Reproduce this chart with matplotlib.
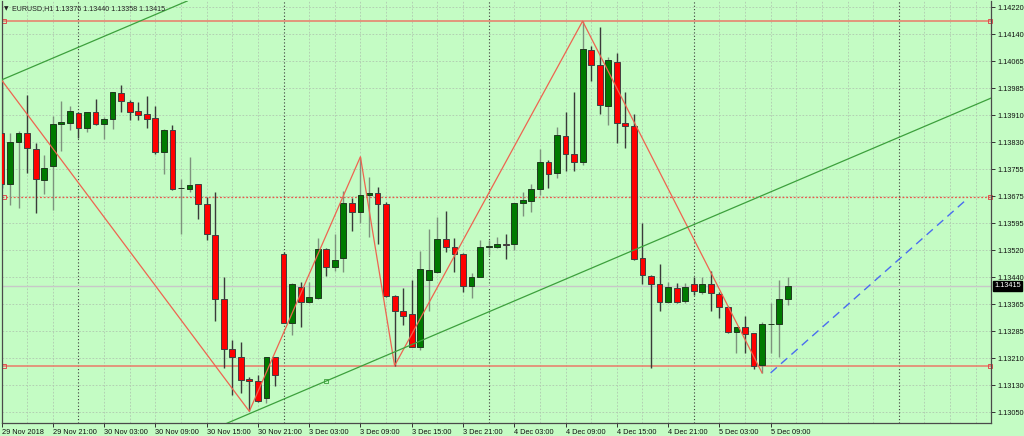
import matplotlib
matplotlib.use('Agg')
import matplotlib.pyplot as plt
import numpy as np

# ---------------- data (EURUSD H1) ----------------
opens = [1.13856, 1.13708, 1.13830, 1.13856, 1.13811, 1.13720, 1.13762, 1.13882, 1.13885, 1.13915,
         1.13871, 1.13917, 1.13882, 1.13897, 1.13973, 1.13947, 1.13919, 1.13911, 1.13899, 1.13802,
         1.13865, 1.13697, 1.13695, 1.13708, 1.13652, 1.13562, 1.13376, 1.13231, 1.13208, 1.13145,
         1.13140, 1.13090, 1.13209, 1.13507, 1.13308, 1.13412, 1.13369, 1.13379, 1.13520, 1.13470,
         1.13494, 1.13655, 1.13627, 1.13677, 1.13684, 1.13650, 1.13385, 1.13342, 1.13332, 1.13239,
         1.13432, 1.13454, 1.13550, 1.13527, 1.13507, 1.13415, 1.13441, 1.13528, 1.13527, 1.13537,
         1.13537, 1.13653, 1.13661, 1.13694, 1.13772, 1.13740, 1.13847, 1.13796, 1.13773, 1.14097,
         1.14053, 1.13935, 1.14063, 1.13885, 1.13876, 1.13494, 1.13443, 1.13419, 1.13367, 1.13409,
         1.13372, 1.13420, 1.13398, 1.13420, 1.13391, 1.13354, 1.13280, 1.13295, 1.13277, 1.13186,
         1.13303, 1.13303, 1.13376]
highs = [1.14010, 1.13856, 1.13862, 1.13966, 1.13827, 1.13793, 1.13906, 1.13950, 1.13935, 1.13918,
         1.13918, 1.13955, 1.13904, 1.13976, 1.13995, 1.13952, 1.13945, 1.13964, 1.13935, 1.13867,
         1.13880, 1.13723, 1.13786, 1.13710, 1.13672, 1.13687, 1.13439, 1.13258, 1.13253, 1.13151,
         1.13157, 1.13210, 1.13210, 1.13513, 1.13422, 1.13427, 1.13427, 1.13554, 1.13523, 1.13564,
         1.13690, 1.13668, 1.13788, 1.13730, 1.13701, 1.13656, 1.13388, 1.13408, 1.13432, 1.13515,
         1.13578, 1.13615, 1.13632, 1.13552, 1.13509, 1.13451, 1.13547, 1.13547, 1.13557, 1.13566,
         1.13655, 1.13687, 1.13708, 1.13810, 1.13778, 1.13873, 1.13916, 1.13974, 1.14180, 1.14108,
         1.14164, 1.14075, 1.14087, 1.13976, 1.13911, 1.13595, 1.13446, 1.13478, 1.13427, 1.13424,
         1.13424, 1.13439, 1.13439, 1.13458, 1.13398, 1.13356, 1.13297, 1.13327, 1.13279, 1.13311,
         1.13366, 1.13433, 1.13440]
lows = [1.13697, 1.13648, 1.13640, 1.13742, 1.13624, 1.13680, 1.13634, 1.13805, 1.13865, 1.13841,
        1.13860, 1.13880, 1.13839, 1.13867, 1.13918, 1.13894, 1.13894, 1.13870, 1.13796, 1.13737,
        1.13692, 1.13566, 1.13687, 1.13607, 1.13547, 1.13314, 1.13176, 1.13099, 1.13104, 1.13052,
        1.13080, 1.13075, 1.13125, 1.13306, 1.13273, 1.13297, 1.13364, 1.13376, 1.13444, 1.13458,
        1.13454, 1.13573, 1.13595, 1.13557, 1.13535, 1.13383, 1.13184, 1.13301, 1.13237, 1.13229,
        1.13341, 1.13453, 1.13512, 1.13454, 1.13398, 1.13381, 1.13439, 1.13504, 1.13523, 1.13491,
        1.13518, 1.13617, 1.13629, 1.13676, 1.13697, 1.13727, 1.13747, 1.13747, 1.13764, 1.14008,
        1.13911, 1.13880, 1.13828, 1.13812, 1.13489, 1.13419, 1.13178, 1.13342, 1.13365, 1.13365,
        1.13364, 1.13388, 1.13391, 1.13343, 1.13321, 1.13278, 1.13221, 1.13221, 1.13173, 1.13163,
        1.13221, 1.13208, 1.13358]
closes = [1.13708, 1.13830, 1.13856, 1.13812, 1.13723, 1.13754, 1.13883, 1.13887, 1.13921, 1.13870,
          1.13916, 1.13882, 1.13897, 1.13974, 1.13948, 1.13918, 1.13909, 1.13898, 1.13802, 1.13865,
          1.13695, 1.13697, 1.13706, 1.13652, 1.13564, 1.13377, 1.13231, 1.13208, 1.13142, 1.13140,
          1.13082, 1.13209, 1.13156, 1.13308, 1.13419, 1.13369, 1.13382, 1.13520, 1.13470, 1.13489,
          1.13653, 1.13627, 1.13677, 1.13684, 1.13650, 1.13385, 1.13341, 1.13328, 1.13239, 1.13463,
          1.13460, 1.13550, 1.13528, 1.13506, 1.13415, 1.13441, 1.13526, 1.13530, 1.13537, 1.13533,
          1.13653, 1.13663, 1.13695, 1.13772, 1.13739, 1.13851, 1.13796, 1.13773, 1.14099, 1.14053,
          1.13937, 1.14068, 1.13886, 1.13876, 1.13492, 1.13446, 1.13421, 1.13369, 1.13410, 1.13369,
          1.13410, 1.13401, 1.13420, 1.13393, 1.13354, 1.13280, 1.13295, 1.13275, 1.13184, 1.13304,
          1.13305, 1.13376, 1.13415]

# x-axis labels (every 6 bars)
xlabel_bars = [0, 6, 12, 18, 24, 30, 36, 42, 48, 54, 60, 66, 72, 78, 84, 90]
xlabel_texts = ['29 Nov 2018', '29 Nov 21:00', '30 Nov 03:00', '30 Nov 09:00', '30 Nov 15:00',
                '30 Nov 21:00', '3 Dec 03:00', '3 Dec 09:00', '3 Dec 15:00', '3 Dec 21:00',
                '4 Dec 03:00', '4 Dec 09:00', '4 Dec 15:00', '4 Dec 21:00', '5 Dec 03:00',
                '5 Dec 09:00']
day_separators = [9, 33, 57, 81, 105]

ytick_values = [1.13050, 1.13128, 1.13206, 1.13284, 1.13362, 1.13440, 1.13518, 1.13596,
                1.13674, 1.13752, 1.13830, 1.13908, 1.13986, 1.14064, 1.14142, 1.14220]
ytick_labels = ['1.13050', '1.13130', '1.13210', '1.13285', '1.13365', '1.13440', '1.13520',
                '1.13595', '1.13675', '1.13755', '1.13830', '1.13910', '1.13985', '1.14065',
                '1.14140', '1.14220']

# ZigZag pivots
zz_bars = [0, 29, 42, 46, 68, 89]
zz_prices = [1.14010, 1.13052, 1.13788, 1.13184, 1.14180, 1.13163]

# equidistant channel (two points on lower line, two on upper line)
chan_lower_bars = [29, 105]
chan_lower_prices = [1.13045, 1.13844]
chan_upper_bars = [0, 20]
chan_upper_prices = [1.14010, 1.14220]
chan_marker_bar = [38]
chan_marker_price = [1.13140]

# horizontal levels
level_solid = [1.14180, 1.13184]
level_dotted = [1.13672]
bid_price = 1.13415

# projection (blue dashed)
proj_bars = [90, 113]
proj_prices = [1.13163, 1.13666]

header = 'EURUSD,H1 1.13376 1.13440 1.13358 1.13415'

# ---------------- styling ----------------
BG = '#c4fcc4'
W, H = 1024, 436
fig = plt.figure(figsize=(W / 100, H / 100), dpi=100, facecolor=BG)
left_px, right_px, top_px, bot_px = 1.5, 991, 1, 423.3
ax = fig.add_axes([left_px / W, (H - bot_px) / H, (right_px - left_px) / W, (bot_px - top_px) / H])
ax.set_facecolor(BG)

bar_px = 8.55
ax.set_xlim((left_px - 1) / bar_px, (right_px - 1) / bar_px)
ppx = 2.891e-5
ax.set_ylim(1.13050 - (bot_px - 412) * ppx, 1.14220 + (7.3 - top_px) * ppx)

FONT = 'Liberation Sans'
FS = 5.3

# grid
for b in np.arange(3, 117, 3):
    if b in day_separators:
        continue
    ax.axvline(b, color='#b0c8b0', lw=0.6, dashes=(2, 2), zorder=0)
for yv in ytick_values:
    ax.axhline(yv, color='#b0c8b0', lw=0.6, dashes=(2, 2), zorder=0)
for d in day_separators:
    ax.axvline(d, color='#3c3c3c', lw=0.8, dashes=(1, 2), zorder=0.5)

# bid line
ax.axhline(bid_price, color='#c8c8c8', lw=1.0, zorder=0.6)

# horizontal levels
for lv in level_solid:
    ax.axhline(lv, color='#ea7a68', lw=1.1, zorder=1)
for lv in level_dotted:
    ax.axhline(lv, color='#ea5a4a', lw=0.9, dashes=(1.5, 1.5), zorder=1)
xl = ax.get_xlim()
for lv in level_solid + level_dotted:
    ax.plot([xl[0] + 0.25, xl[1] - 0.15], [lv, lv], ls='none', marker='s', ms=2.6,
            mfc='none', mec='#e05050', mew=0.7, zorder=1.1, clip_on=False)

# candles
o = np.array(opens); c = np.array(closes); h = np.array(highs); l = np.array(lows)
xs = np.arange(len(o))
bull = c >= o
ax.vlines(xs[bull], l[bull], h[bull], color='#7d927d', lw=1.0, zorder=2)
ax.vlines(xs[~bull], l[~bull], h[~bull], color='#3a3a3a', lw=1.0, zorder=2)
bw = 0.68
ax.bar(xs[bull], (c - o)[bull], bottom=o[bull], width=bw, color='#007a00',
       edgecolor='#203820', lw=0.7, zorder=3)
ax.bar(xs[~bull], (o - c)[~bull], bottom=c[~bull], width=bw, color='#ff0000',
       edgecolor='#404040', lw=0.7, zorder=3)

# zigzag
ax.plot(zz_bars, zz_prices, color='#ee6450', lw=0.9, zorder=4)

# channel
ax.axline((chan_lower_bars[0], chan_lower_prices[0]), (chan_lower_bars[1], chan_lower_prices[1]),
          color='#3ca03c', lw=0.9, zorder=4)
ax.axline((chan_upper_bars[0], chan_upper_prices[0]), (chan_upper_bars[1], chan_upper_prices[1]),
          color='#3ca03c', lw=0.9, zorder=4)
ax.plot(chan_marker_bar, chan_marker_price, ls='none', marker='s', ms=2.5, mfc='none',
        mec='#3ca03c', mew=0.6, zorder=4)

# projection
ax.plot(proj_bars, proj_prices, color='#4a6cf0', lw=1.0, dashes=(6, 4), zorder=4)

# axes / ticks
ax.spines['top'].set_visible(False)
for s in ['left', 'right', 'bottom']:
    ax.spines[s].set_color('#4a4a4a')
    ax.spines[s].set_linewidth(0.9)

ax.yaxis.tick_right()
ax.set_yticks(ytick_values)
ax.set_yticklabels(ytick_labels, fontsize=FS, family=FONT, color='#111111')
ax.tick_params(axis='y', direction='out', length=3, width=0.7, color='#333333', pad=1.5)

ax.set_xticks(xlabel_bars)
ax.set_xticklabels(xlabel_texts, fontsize=FS, family=FONT, color='#111111', ha='left')
ax.tick_params(axis='x', direction='out', length=3, width=0.7, color='#333333', pad=0.8)

# bid label box
ax.annotate('1.13415', xy=(1.0, bid_price), xycoords=('axes fraction', 'data'),
            xytext=(2.2, 0), textcoords='offset points', va='center', ha='left',
            fontsize=FS, family=FONT, color='white',
            bbox=dict(boxstyle='square,pad=0.18', fc='black', ec='black'), zorder=10,
            annotation_clip=False)

# header
fig.text(4 / W, 1 - 8.5 / H, '\u25BC', fontsize=4.2, family='DejaVu Sans', color='#222222',
         va='center', ha='left')
fig.text(12.5 / W, 1 - 8.5 / H, header, fontsize=5.1, family=FONT, color='#222222',
         va='center', ha='left')

fig.savefig('out.png', dpi=100, facecolor=BG)
